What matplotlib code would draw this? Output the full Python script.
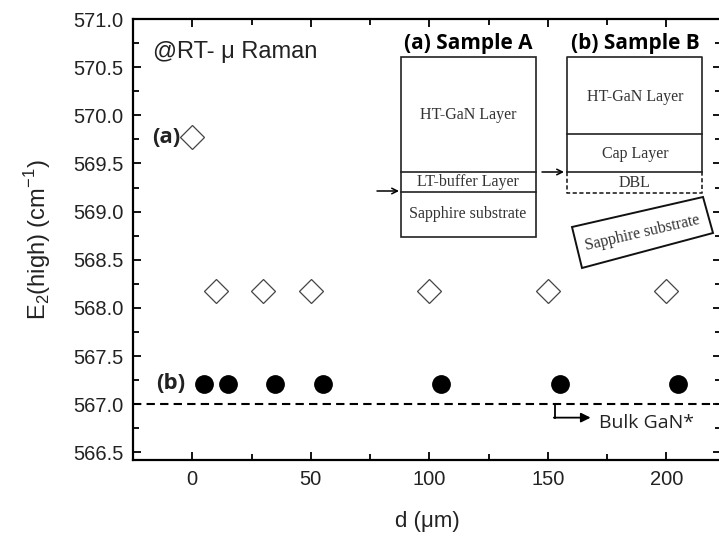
import matplotlib
matplotlib.use("Agg")
import matplotlib.pyplot as plt
from matplotlib.patches import Rectangle, Polygon
from matplotlib.ticker import MultipleLocator, FormatStrFormatter

plt.rcParams["mathtext.fontset"] = "custom"
plt.rcParams["mathtext.rm"] = "Liberation Sans"

# --- Data ---
d_a = [0, 10, 30, 50, 100, 150, 200]          # sample A (open diamonds)
e2_a = [569.77, 568.17, 568.17, 568.17, 568.17, 568.17, 568.17]
d_b = [5, 15, 35, 55, 105, 155, 205]          # sample B (filled circles)
e2_b = [567.21, 567.21, 567.21, 567.21, 567.21, 567.21, 567.21]
bulk_gan = 567.0

W, H = 719, 536
fig = plt.figure(figsize=(W / 100, H / 100), dpi=100)
ax = fig.add_axes([133 / W, 76 / H, 588 / W, 441 / H])

ax.plot(d_a, e2_a, linestyle="none", marker="D", markersize=12,
        markerfacecolor="white", markeredgecolor="#444444", markeredgewidth=0.9)
ax.plot(d_b, e2_b, linestyle="none", marker="o", markersize=12.5,
        color="black")
ax.axhline(bulk_gan, color="black", linestyle=(0, (4, 2.5)), linewidth=1.5)

ax.set_xlim(-25, 223)
ax.set_ylim(566.42, 571.0)
ax.xaxis.set_major_locator(MultipleLocator(50))
ax.xaxis.set_minor_locator(MultipleLocator(25))
ax.yaxis.set_major_locator(MultipleLocator(0.5))
ax.yaxis.set_minor_locator(MultipleLocator(0.25))
ax.yaxis.set_major_formatter(FormatStrFormatter("%.1f"))
ax.tick_params(which="both", direction="in", top=True, right=True,
               labelsize=14.5, labelcolor="#222222", width=1.3)
ax.tick_params(which="major", length=6, pad=7)
ax.tick_params(which="minor", length=4)
for s in ax.spines.values():
    s.set_linewidth(1.6)
ax.spines["right"].set_visible(False)
for lab in ax.get_xticklabels() + ax.get_yticklabels():
    lab.set_family("Liberation Sans")

ax.set_xlabel("d (\u03bcm)", fontsize=16, family="Liberation Sans",
              color="#222222", labelpad=16)
ax.set_ylabel(r"E$_\mathregular{2}$(high) (cm$^\mathregular{-1}$)", fontsize=17,
              family="Liberation Sans", color="#222222", labelpad=14)

ax.text(-16.7, 570.66, "@RT- \u03bc Raman", fontsize=17, family="Liberation Sans",
        color="#222222", va="center", ha="left")
ax.text(-5.0, 569.77, "(a)", fontsize=16, fontweight="bold", family="Open Sans",
        va="center", ha="right", color="#222222")
ax.text(-3.0, 567.21, "(b)", fontsize=16, fontweight="bold", family="Open Sans",
        va="center", ha="right", color="#222222")

# Bulk GaN reference marker
ax.plot([153, 153], [567.0, 566.86], color="black", lw=1.3)
ax.annotate("", xy=(168, 566.86), xytext=(152.5, 566.86),
            arrowprops=dict(arrowstyle="-|>", color="black", lw=1.3,
                            mutation_scale=14, shrinkA=0, shrinkB=0))
ax.text(171.5, 566.80, "Bulk GaN*", fontsize=14, family="Open Sans",
        va="center", ha="left", color="#222222")

# --- Inset schematic (pixel coordinates, y up) ---
ov = fig.add_axes([0, 0, 1, 1])
ov.set_xlim(0, W)
ov.set_ylim(0, H)
ov.axis("off")


def Y(y):
    return H - y


serif = dict(family="Liberation Serif", color="#333333", ha="center", va="center")
lw = 1.2

# Sample A
ov.text(468, Y(43), "(a) Sample A", fontsize=15, fontweight="bold",
        family="Open Sans", ha="center", va="center", color="black")
ov.add_patch(Rectangle((401, Y(237)), 135, 180, fill=False, lw=lw, ec="#222222"))
ov.plot([401, 536], [Y(172), Y(172)], color="#222222", lw=lw)
ov.plot([401, 536], [Y(192), Y(192)], color="#222222", lw=lw)
ov.text(468, Y(115), "HT-GaN Layer", fontsize=11.5, **serif)
ov.text(468, Y(182), "LT-buffer Layer", fontsize=11.5, **serif)
ov.text(468, Y(214), "Sapphire substrate", fontsize=11.5, **serif)
ov.annotate("", xy=(399, Y(191)), xytext=(377, Y(191)),
            arrowprops=dict(arrowstyle="->", color="black", lw=1.1, shrinkA=0, shrinkB=0))

# Sample B
ov.text(635, Y(43), "(b) Sample B", fontsize=15, fontweight="bold",
        family="Open Sans", ha="center", va="center", color="black")
ov.plot([567, 567, 702, 702], [Y(172), Y(57), Y(57), Y(172)], color="#222222", lw=lw)
ov.plot([567, 702], [Y(134), Y(134)], color="#222222", lw=lw)
ov.plot([567, 702], [Y(172), Y(172)], color="#222222", lw=lw)
ov.plot([567, 567, 702, 702], [Y(172), Y(193), Y(193), Y(172)], color="#222222",
        lw=lw, linestyle=(0, (2.5, 1.5)))
ov.text(635, Y(97), "HT-GaN Layer", fontsize=11.5, **serif)
ov.text(635, Y(154), "Cap Layer", fontsize=11.5, **serif)
ov.text(635, Y(183), "DBL", fontsize=11.5, **serif)
ov.annotate("", xy=(564, Y(172)), xytext=(542, Y(172)),
            arrowprops=dict(arrowstyle="->", color="black", lw=1.1, shrinkA=0, shrinkB=0))

# detached sapphire substrate
ov.add_patch(Polygon([(572, Y(227)), (703, Y(197)), (713, Y(233)), (582, Y(268))],
                     closed=True, fill=False, lw=1.4, ec="#111111"))
ov.text(642, Y(233), "Sapphire substrate", fontsize=11.5, rotation=13,
        rotation_mode="anchor", **serif)

fig.savefig("out.png", dpi=100)
